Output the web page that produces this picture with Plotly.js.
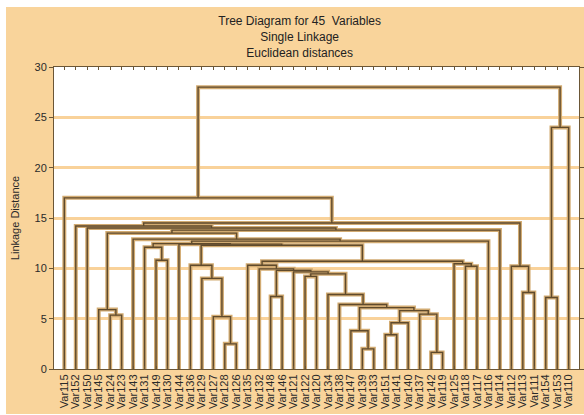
<!DOCTYPE html>
<html><head><meta charset="utf-8">
<script src="https://cdn.plot.ly/plotly-3.0.1.min.js"></script>
<style>html,body{margin:0;padding:0;background:#fff;}#chart{position:absolute;left:6px;top:7px;width:578px;height:407px;}</style>
</head><body><div id="chart"></div>
<script>
// Leaf order along the x axis
const leafLabels = ["Var115","Var152","Var150","Var145","Var124","Var123","Var143","Var131","Var149","Var130",
  "Var144","Var136","Var129","Var127","Var128","Var126","Var135","Var132","Var148","Var146",
  "Var121","Var122","Var120","Var134","Var138","Var147","Var139","Var133","Var151","Var141",
  "Var140","Var137","Var142","Var119","Var125","Var118","Var117","Var116","Var114","Var112",
  "Var113","Var111","Var154","Var153","Var110"];
// Linkage steps: merge k joins linkLeft[k] and linkRight[k] (leaf names or "m<index>") at linkHeight[k]
const linkLeft  = ["Var124","Var145","Var149","Var131","Var128","Var127","Var129","Var136","Var148","Var122",
  "Var139","Var147","Var151","m12","Var142","Var137","m13","m11","Var138","Var134",
  "m9","Var121","m8","Var132","Var135","Var118","Var125","m24","m7","Var144",
  "m3","m30","Var143","m1","m33","Var150","Var152","Var113","Var112","m36",
  "Var115","Var154","m41","m40"];
const linkRight = ["Var123","m0","Var130","m2","Var126","m4","m5","m6","Var146","Var120",
  "Var133","m10","Var141","Var140","Var119","m14","m15","m16","m17","m18",
  "m19","m20","m21","m22","m23","Var117","m25","m26","m27","m28",
  "m29","Var116","m31","m32","Var114","m34","m35","Var111","m37","m38",
  "m39","Var153","Var110","m42"];
const linkHeight = [5.35,5.9,10.8,12.1,2.5,5.2,9.0,10.3,7.2,9.2,
  2.0,3.8,3.4,4.6,1.65,5.45,5.8,6.1,6.4,7.4,
  9.45,9.65,9.8,9.95,10.3,10.2,10.45,10.7,12.3,12.4,
  12.45,12.7,12.9,13.5,13.8,14.0,14.2,7.6,10.2,14.5,
  17.0,7.1,24.0,28.0];
const yTicks = [0,5,10,15,20,25,30];

const pos = {};
leafLabels.forEach((n,i)=>{pos[n]={x:i,h:0};});
const xs=[], ys=[];
linkLeft.forEach((l,k)=>{
  const a=pos[l], b=pos[linkRight[k]], h=linkHeight[k];
  xs.push(a.x,a.x,b.x,b.x,null);
  ys.push(a.h,h,h,b.h,null);
  pos['m'+k]={x:(a.x+b.x)/2,h:h};
});

const FONT='Liberation Sans, Arial, sans-serif';
const traces=[
  {x:xs,y:ys,type:'scatter',mode:'lines',line:{color:'#d2ab72',width:4},hoverinfo:'skip',showlegend:false},
  {x:xs,y:ys,type:'scatter',mode:'lines',line:{color:'#5f4a2c',width:1.4},hoverinfo:'skip',showlegend:false}
];
const layout={
  width:578,height:407,
  paper_bgcolor:'#f9d49b',plot_bgcolor:'#ffffff',
  margin:{l:48,r:5,t:59.5,b:44.5,pad:0},
  font:{family:FONT,color:'#2a2a2a'},
  title:{text:'Tree Diagram for 45\u00a0 Variables<br>Single Linkage<br>Euclidean distances',
    font:{size:12,family:FONT,color:'#222'},x:0.508,xref:'container',xanchor:'center',y:0.955,yref:'container',yanchor:'top'},
  xaxis:{range:[-0.9,44.9],tickmode:'array',tickvals:leafLabels.map((_,i)=>i),ticktext:leafLabels,tickangle:-90,
    ticks:'inside',ticklen:3,tickcolor:'#6b5636',showline:true,linecolor:'#6b5636',linewidth:1,mirror:'ticks',
    showgrid:false,zeroline:false,automargin:false,tickfont:{size:11,family:FONT,color:'#2a2a2a'},fixedrange:true},
  yaxis:{range:[0,30],tickmode:'array',tickvals:yTicks,ticks:'outside',ticklen:4,tickcolor:'#6b5636',
    showline:true,linecolor:'#6b5636',linewidth:1,mirror:'ticks',showgrid:true,gridcolor:'#f9d29a',gridwidth:3,
    zeroline:false,automargin:false,tickfont:{size:11,family:FONT,color:'#2a2a2a'},
    title:{text:'Linkage Distance',font:{size:11,family:FONT,color:'#2a2a2a'},standoff:12},fixedrange:true}
};
Plotly.newPlot('chart',traces,layout,{staticPlot:true,displayModeBar:false});
</script></body></html>
